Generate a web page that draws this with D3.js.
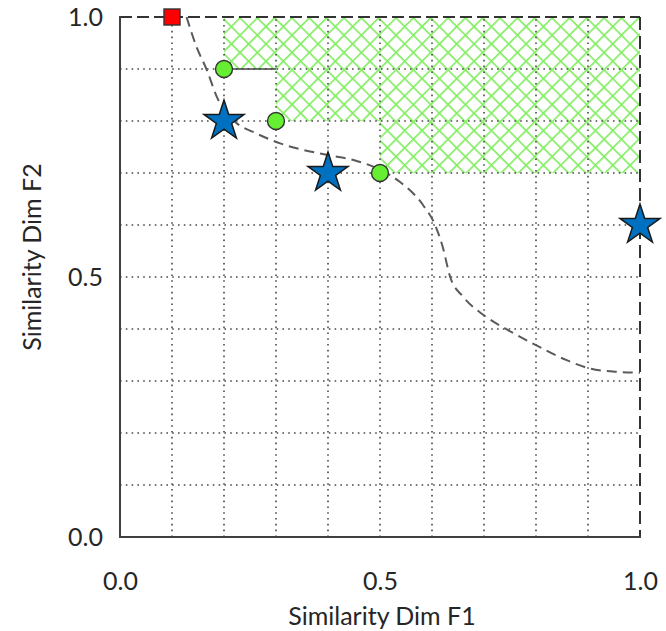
<!DOCTYPE html>
<html>
<head>
<meta charset="utf-8">
<script src="https://cdn.jsdelivr.net/npm/d3@7"></script>
<style>
  html, body { margin: 0; padding: 0; background: #fff; }
  svg { display: block; }
  text { font-family: Lato, "Open Sans", sans-serif; fill: #262626; }
</style>
</head>
<body>
<svg id="chart" width="666" height="631"></svg>
<script>
// ---- data ----
const tickValues = [0.0, 0.5, 1.0];
const gridValues = [0.1, 0.2, 0.3, 0.4, 0.5, 0.6, 0.7, 0.8, 0.9];

const frontPoints = [   // green circles (non-dominated set)
  { x: 0.2, y: 0.9 },
  { x: 0.3, y: 0.8 },
  { x: 0.5, y: 0.7 },
];
const starPoints = [
  { x: 0.2, y: 0.8 },
  { x: 0.4, y: 0.7 },
  { x: 1.0, y: 0.6 },
];
const idealPoint = { x: 0.1, y: 1.0 };

const curvePoints = [
  [0.128, 1.0], [0.147, 0.943], [0.167, 0.898], [0.186, 0.847],
  [0.224, 0.796], [0.256, 0.779], [0.308, 0.757], [0.397, 0.735],
  [0.449, 0.725], [0.494, 0.709], [0.538, 0.683], [0.583, 0.638],
  [0.606, 0.6], [0.620, 0.56], [0.635, 0.5], [0.66, 0.462],
  [0.699, 0.427], [0.746, 0.398], [0.800, 0.369], [0.859, 0.340],
  [0.900, 0.325], [0.950, 0.318], [1.0, 0.316],
];

const xLabel = "Similarity Dim F1";
const yLabel = "Similarity Dim F2";

// ---- layout ----
const margin = { top: 17, right: 26, bottom: 94, left: 120 };
const width = 666 - margin.left - margin.right;
const height = 631 - margin.top - margin.bottom;
const fontSize = "25px";

const svg = d3.select("#chart");
const g = svg.append("g").attr("transform", `translate(${margin.left},${margin.top})`);

const x = d3.scaleLinear().domain([0, 1]).range([0, width]);
const y = d3.scaleLinear().domain([0, 1]).range([height, 0]);

// crosshatch pattern
const defs = svg.append("defs");
const cell = 12.26;
const hatchColor = "#86ee66";
const pat = defs.append("pattern")
  .attr("id", "crosshatch")
  .attr("patternUnits", "userSpaceOnUse")
  .attr("width", cell)
  .attr("height", cell)
  .attr("patternTransform", `translate(${margin.left},${margin.top}) rotate(45)`);
pat.append("rect").attr("x", 0).attr("y", 0).attr("width", 1.7).attr("height", cell).attr("fill", hatchColor);
pat.append("rect").attr("x", 0).attr("y", 0).attr("width", cell).attr("height", 1.7).attr("fill", hatchColor);

// dominated region: union of boxes [xi,1] x [yi,1]
const sorted = frontPoints.slice().sort((a, b) => a.x - b.x);
let region = `M${x(sorted[0].x)},${y(1)}`;
sorted.forEach((p, i) => {
  region += ` L${x(p.x)},${y(p.y)}`;
  const next = sorted[i + 1];
  if (next) region += ` L${x(next.x)},${y(p.y)}`;
});
region += ` L${x(1)},${y(sorted[sorted.length - 1].y)} L${x(1)},${y(1)} Z`;
g.append("path").attr("d", region).attr("fill", "url(#crosshatch)");

// dotted grid
g.append("g").selectAll("line").data(gridValues).join("line")
  .attr("x1", (d) => x(d)).attr("x2", (d) => x(d))
  .attr("y1", y(0)).attr("y2", y(1))
  .attr("stroke", "#4a4a4a").attr("stroke-width", 1.6)
  .attr("stroke-dasharray", "1.6,4.2");
g.append("g").selectAll("line").data(gridValues).join("line")
  .attr("y1", (d) => y(d)).attr("y2", (d) => y(d))
  .attr("x1", x(0)).attr("x2", x(1))
  .attr("stroke", "#4a4a4a").attr("stroke-width", 1.6)
  .attr("stroke-dasharray", "1.6,4.2");

// short solid step from first front point
g.append("line")
  .attr("x1", x(sorted[0].x)).attr("x2", x(sorted[1].x))
  .attr("y1", y(sorted[0].y)).attr("y2", y(sorted[0].y))
  .attr("stroke", "#444").attr("stroke-width", 1.6);

// frame: solid left/bottom, dashed top/right
g.append("line").attr("x1", x(0)).attr("x2", x(1)).attr("y1", y(1)).attr("y2", y(1))
  .attr("stroke", "#333").attr("stroke-width", 2).attr("stroke-dasharray", "12,5");
g.append("line").attr("x1", x(1)).attr("x2", x(1)).attr("y1", y(1)).attr("y2", y(0))
  .attr("stroke", "#333").attr("stroke-width", 2).attr("stroke-dasharray", "13,6");
g.append("line").attr("x1", x(0)).attr("x2", x(0)).attr("y1", y(1) - 1).attr("y2", y(0) + 1)
  .attr("stroke", "#404040").attr("stroke-width", 2);
g.append("line").attr("x1", x(0) - 1).attr("x2", x(1) + 1).attr("y1", y(0)).attr("y2", y(0))
  .attr("stroke", "#404040").attr("stroke-width", 2);

// axes (labels only)
const fmt = d3.format(".1f");
const xAxis = g.append("g").attr("transform", `translate(0,${height})`)
  .call(d3.axisBottom(x).tickValues(tickValues).tickFormat(fmt).tickSize(0).tickPadding(35));
const yAxis = g.append("g")
  .call(d3.axisLeft(y).tickValues(tickValues).tickFormat(fmt).tickSize(0).tickPadding(17));
[xAxis, yAxis].forEach((a) => {
  a.select(".domain").remove();
  a.selectAll("text").style("font-size", fontSize).style("font-family", "Lato, 'Open Sans', sans-serif").attr("fill", "#262626");
});

// dashed curve
const line = d3.line().x((d) => x(d[0])).y((d) => y(d[1])).curve(d3.curveMonotoneX);
g.append("path").datum(curvePoints).attr("d", line)
  .attr("fill", "none").attr("stroke", "#5a5a5a").attr("stroke-width", 2)
  .attr("stroke-dasharray", "10,6");

// markers
g.append("g").selectAll("circle").data(frontPoints).join("circle")
  .attr("cx", (d) => x(d.x)).attr("cy", (d) => y(d.y)).attr("r", 8.5)
  .attr("fill", "#66ee33").attr("stroke", "#333").attr("stroke-width", 1.4);

const star = d3.symbol().type(d3.symbolStar).size(500);
g.append("g").selectAll("path").data(starPoints).join("path")
  .attr("transform", (d) => `translate(${x(d.x)},${y(d.y)})`)
  .attr("d", star)
  .attr("fill", "#0070c0").attr("stroke", "#1a1a1a").attr("stroke-width", 1.5);

g.append("rect")
  .attr("x", x(idealPoint.x) - 8).attr("y", y(idealPoint.y) - 8)
  .attr("width", 16).attr("height", 16)
  .attr("fill", "#ff0000").attr("stroke", "#333").attr("stroke-width", 1.4);

// axis titles
svg.append("text")
  .attr("x", margin.left + width / 2 + 2).attr("y", 625)
  .attr("text-anchor", "middle").style("font-size", fontSize)
  .text(xLabel);
svg.append("text")
  .attr("transform", "translate(41,257) rotate(-90)")
  .attr("text-anchor", "middle").style("font-size", fontSize)
  .text(yLabel);
</script>
</body>
</html>
